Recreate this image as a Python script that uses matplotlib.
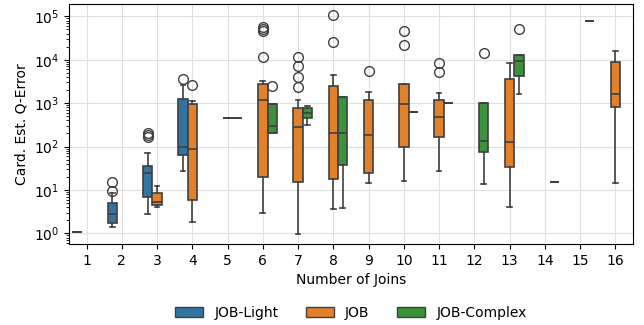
import matplotlib.pyplot as plt
from matplotlib.patches import Patch
import numpy as np

############## Data ##############
benchmarks = ["JOB-Light", "JOB", "JOB-Complex"]
colors = ["#3274a1", "#e1812c", "#3a923a"]
joins = list(range(1, 17))

# box summaries per join count: (whislo, q1, median, q3, whishi)
light_joins = [1, 2, 3, 4]
light_stats = [(1.1, 1.1, 1.1, 1.1, 1.1),
               (1.4, 1.76, 2.74, 4.92, 8.4),
               (2.74, 6.9, 25, 36.3, 70),
               (27.9, 64, 95, 1240, 2650)]
light_fliers = [[], [9.6, 15.6], [170, 185, 209], [3560]]

job_joins = [3, 4, 5, 6, 7, 8, 9, 10, 11, 13, 16]
job_stats = [(4.1, 4.57, 5.2, 8.65, 12.3),
             (1.8, 5.87, 87, 930, 1130),
             (450, 450, 450, 450, 450),
             (2.9, 19.6, 1175, 2790, 3230),
             (0.98, 15.5, 279, 752, 1210),
             (3.6, 18.2, 209, 2510, 4340),
             (14.7, 24.6, 182, 1210, 1760),
             (15.9, 95, 930, 2790, 2790),
             (27.9, 170, 475, 1210, 1700),
             (4.0, 34.4, 130, 3650, 8380),
             (14.7, 809, 1585, 8980, 16100)]
job_fliers = [[], [2600], [], [11500, 45000, 51000, 56800],
              [2290, 4050, 7000, 11500], [26000, 107000], [5370],
              [21400, 46000], [5280, 8200], [], []]

complex_joins = [5, 6, 7, 8, 10, 11, 12, 13, 14, 15]
complex_stats = [(450, 450, 450, 450, 450),
                 (203, 203, 304, 950, 950),
                 (310, 458, 597, 752, 867),
                 (3.9, 37.7, 209, 1400, 1400),
                 (608, 608, 608, 608, 608),
                 (980, 980, 980, 980, 980),
                 (14, 75, 133, 1000, 1000),
                 (1640, 4200, 9100, 13000, 13000),
                 (15.5, 15.5, 15.5, 15.5, 15.5),
                 (79000, 79000, 79000, 79000, 79000)]
complex_fliers = [[], [2500], [], [], [], [], [14500], [51000], [], []]

series = [(light_joins, light_stats, light_fliers),
          (job_joins, job_stats, job_fliers),
          (complex_joins, complex_stats, complex_fliers)]

############## Plot ##############
edge = "#3f3f3f"
fig, ax = plt.subplots(figsize=(6.44, 3.25), dpi=100)
fig.subplots_adjust(left=0.107, right=0.983, bottom=0.249, top=0.988)

width = 0.8 / len(benchmarks)
for i, (xs, stats, fliers) in enumerate(series):
    offset = (i - 1) * width
    bxp_stats = []
    for (lo, q1, med, q3, hi), fl in zip(stats, fliers):
        bxp_stats.append(dict(whislo=lo, q1=q1, med=med, q3=q3, whishi=hi,
                              fliers=fl))
    ax.bxp(bxp_stats, positions=[x + offset for x in xs],
           widths=width, capwidths=width * 0.5, patch_artist=True,
           manage_ticks=False,
           boxprops=dict(facecolor=colors[i], edgecolor=edge, linewidth=1.2),
           medianprops=dict(color=edge, linewidth=1.2),
           whiskerprops=dict(color=edge, linewidth=1.2),
           capprops=dict(color=edge, linewidth=1.2),
           flierprops=dict(marker="o", markerfacecolor="none",
                           markeredgecolor=edge, markersize=7,
                           markeredgewidth=1.0))

ax.set_yscale("log")
ax.set_ylim(0.566, 1.93e5)
ax.set_xlim(0.5, 16.5)
ax.set_xticks(joins)
ax.set_xticklabels([str(j) for j in joins])
ax.grid(True, color="#e0e0e0", linewidth=0.8)
ax.set_axisbelow(True)
ax.set_xlabel("Number of Joins")
ax.set_ylabel("Card. Est. Q-Error")

handles = [Patch(facecolor=c, edgecolor=edge, label=b)
           for b, c in zip(benchmarks, colors)]
ax.legend(handles=handles, loc="upper center", bbox_to_anchor=(0.5, -0.205),
          ncol=3, frameon=False)

plt.savefig("out.png")
